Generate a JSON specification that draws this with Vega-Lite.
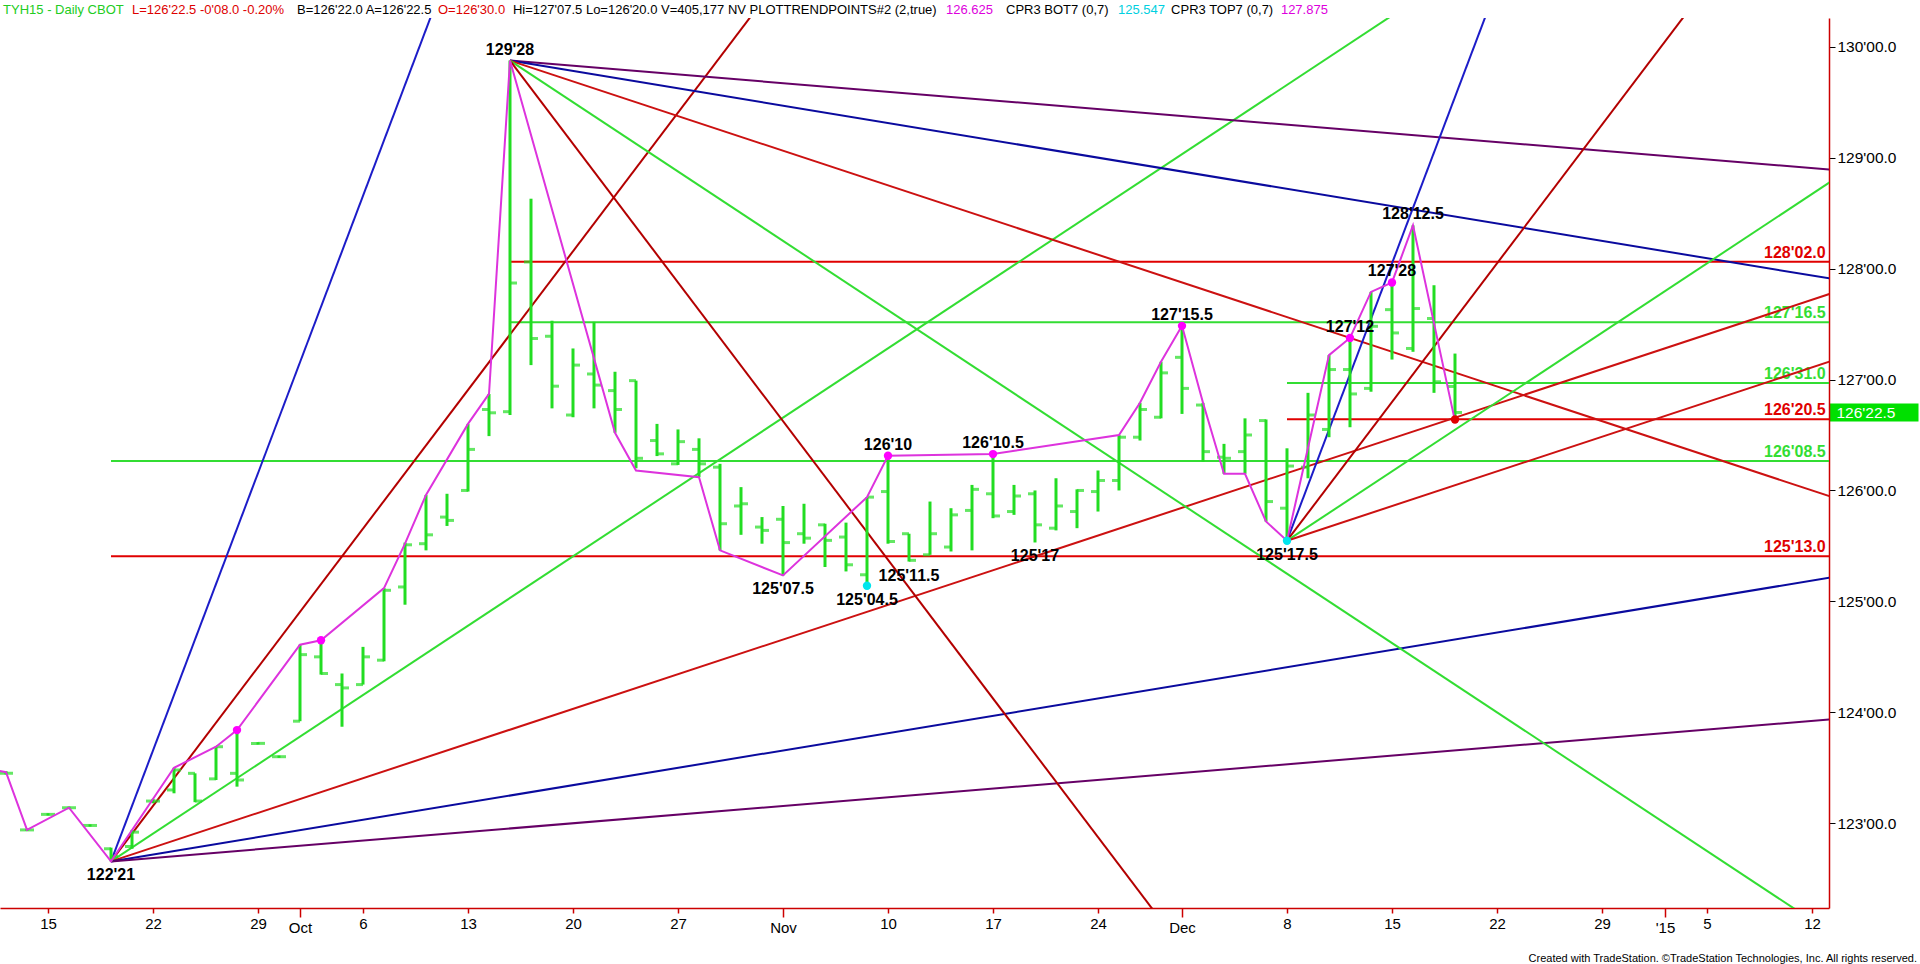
{
  "$schema": "https://vega.github.io/schema/vega-lite/v6.json",
  "width": 1829,
  "height": 890,
  "autosize": {"type": "none"},
  "padding": {"left": 0, "top": 18, "right": 91, "bottom": 56},
  "background": "white",
  "config": {"view": {"stroke": null}, "font": "Liberation Sans"},
  "title": {"text": "Created with TradeStation. ©TradeStation Technologies, Inc. All rights reserved.", "orient": "bottom", "anchor": "end", "frame": "group", "fontSize": 11, "fontWeight": "normal", "color": "black", "dx": 88, "offset": 18, "font": "Liberation Sans"},
  "datasets": {
    "bars": [
      {"i": -2, "o": 123.45, "hi": 123.47, "lo": 123.44, "c": 123.45},
      {"i": -1, "o": 122.94, "hi": 122.95, "lo": 122.93, "c": 122.94},
      {"i": 0, "o": 123.08, "hi": 123.09, "lo": 123.07, "c": 123.08},
      {"i": 1, "o": 123.14, "hi": 123.15, "lo": 123.13, "c": 123.14},
      {"i": 2, "o": 122.98, "hi": 122.99, "lo": 122.97, "c": 122.98},
      {"i": 3, "o": 122.77, "hi": 122.78, "lo": 122.656, "c": 122.70},
      {"i": 4, "o": 122.79, "hi": 122.94, "lo": 122.77, "c": 122.92},
      {"i": 5, "o": 123.20, "hi": 123.22, "lo": 123.18, "c": 123.20},
      {"i": 6, "o": 123.30, "hi": 123.50, "lo": 123.27, "c": 123.48},
      {"i": 7, "o": 123.45, "hi": 123.45, "lo": 123.19, "c": 123.20},
      {"i": 8, "o": 123.40, "hi": 123.69, "lo": 123.39, "c": 123.69},
      {"i": 9, "o": 123.45, "hi": 123.84, "lo": 123.33, "c": 123.39},
      {"i": 10, "o": 123.72, "hi": 123.73, "lo": 123.71, "c": 123.72},
      {"i": 11, "o": 123.60, "hi": 123.61, "lo": 123.59, "c": 123.60},
      {"i": 12, "o": 123.92, "hi": 124.61, "lo": 123.92, "c": 124.52},
      {"i": 13, "o": 124.50, "hi": 124.65, "lo": 124.34, "c": 124.35},
      {"i": 14, "o": 124.25, "hi": 124.35, "lo": 123.87, "c": 124.22},
      {"i": 15, "o": 124.25, "hi": 124.59, "lo": 124.25, "c": 124.50},
      {"i": 16, "o": 124.47, "hi": 125.12, "lo": 124.46, "c": 125.10},
      {"i": 17, "o": 125.13, "hi": 125.53, "lo": 124.97, "c": 125.51},
      {"i": 18, "o": 125.52, "hi": 125.96, "lo": 125.46, "c": 125.60},
      {"i": 19, "o": 125.76, "hi": 125.97, "lo": 125.68, "c": 125.73},
      {"i": 20, "o": 126.00, "hi": 126.60, "lo": 125.99, "c": 126.37},
      {"i": 21, "o": 126.73, "hi": 126.87, "lo": 126.49, "c": 126.70},
      {"i": 22, "o": 126.71, "hi": 129.875, "lo": 126.68, "c": 127.87},
      {"i": 23, "o": 128.06, "hi": 128.63, "lo": 127.13, "c": 127.37},
      {"i": 24, "o": 127.39, "hi": 127.53, "lo": 126.74, "c": 126.94},
      {"i": 25, "o": 126.68, "hi": 127.28, "lo": 126.66, "c": 127.13},
      {"i": 26, "o": 127.05, "hi": 127.52, "lo": 126.74, "c": 126.95},
      {"i": 27, "o": 126.90, "hi": 127.07, "lo": 126.52, "c": 126.73},
      {"i": 28, "o": 126.99, "hi": 126.99, "lo": 126.20, "c": 126.29},
      {"i": 29, "o": 126.45, "hi": 126.60, "lo": 126.31, "c": 126.33},
      {"i": 30, "o": 126.24, "hi": 126.55, "lo": 126.23, "c": 126.44},
      {"i": 31, "o": 126.37, "hi": 126.47, "lo": 126.12, "c": 126.24},
      {"i": 32, "o": 126.21, "hi": 126.24, "lo": 125.46, "c": 125.70},
      {"i": 33, "o": 125.86, "hi": 126.03, "lo": 125.60, "c": 125.88},
      {"i": 34, "o": 125.67, "hi": 125.76, "lo": 125.52, "c": 125.64},
      {"i": 35, "o": 125.74, "hi": 125.86, "lo": 125.234, "c": 125.53},
      {"i": 36, "o": 125.61, "hi": 125.88, "lo": 125.52, "c": 125.57},
      {"i": 37, "o": 125.69, "hi": 125.70, "lo": 125.31, "c": 125.55},
      {"i": 38, "o": 125.58, "hi": 125.71, "lo": 125.27, "c": 125.33},
      {"i": 39, "o": 125.24, "hi": 125.94, "lo": 125.141, "c": 125.94},
      {"i": 40, "o": 125.99, "hi": 126.3125, "lo": 125.52, "c": 125.54},
      {"i": 41, "o": 125.61, "hi": 125.61, "lo": 125.359, "c": 125.37},
      {"i": 42, "o": 125.42, "hi": 125.90, "lo": 125.42, "c": 125.61},
      {"i": 43, "o": 125.49, "hi": 125.84, "lo": 125.45, "c": 125.78},
      {"i": 44, "o": 125.82, "hi": 126.05, "lo": 125.46, "c": 126.01},
      {"i": 45, "o": 125.97, "hi": 126.328, "lo": 125.75, "c": 125.77},
      {"i": 46, "o": 125.81, "hi": 126.05, "lo": 125.78, "c": 125.95},
      {"i": 47, "o": 125.97, "hi": 126.00, "lo": 125.531, "c": 125.69},
      {"i": 48, "o": 125.66, "hi": 126.11, "lo": 125.64, "c": 125.86},
      {"i": 49, "o": 125.81, "hi": 126.01, "lo": 125.66, "c": 126.00},
      {"i": 50, "o": 125.99, "hi": 126.18, "lo": 125.81, "c": 126.09},
      {"i": 51, "o": 126.09, "hi": 126.50, "lo": 126.00, "c": 126.48},
      {"i": 52, "o": 126.48, "hi": 126.79, "lo": 126.45, "c": 126.73},
      {"i": 53, "o": 126.66, "hi": 127.16, "lo": 126.65, "c": 127.06},
      {"i": 54, "o": 127.20, "hi": 127.484, "lo": 126.69, "c": 126.92},
      {"i": 55, "o": 126.77, "hi": 126.79, "lo": 126.26, "c": 126.35},
      {"i": 56, "o": 126.30, "hi": 126.42, "lo": 126.15, "c": 126.29},
      {"i": 57, "o": 126.35, "hi": 126.65, "lo": 126.15, "c": 126.50},
      {"i": 58, "o": 126.63, "hi": 126.64, "lo": 125.72, "c": 125.90},
      {"i": 59, "o": 125.84, "hi": 126.38, "lo": 125.547, "c": 126.22},
      {"i": 60, "o": 126.21, "hi": 126.88, "lo": 126.11, "c": 126.68},
      {"i": 61, "o": 126.55, "hi": 127.22, "lo": 126.48, "c": 127.09},
      {"i": 62, "o": 127.09, "hi": 127.375, "lo": 126.57, "c": 126.87},
      {"i": 63, "o": 126.92, "hi": 127.79, "lo": 126.89, "c": 127.48},
      {"i": 64, "o": 127.63, "hi": 127.875, "lo": 127.18, "c": 127.42},
      {"i": 65, "o": 127.28, "hi": 128.39, "lo": 127.25, "c": 127.64},
      {"i": 66, "o": 127.55, "hi": 127.85, "lo": 126.88, "c": 126.98},
      {"i": 67, "o": 126.9375, "hi": 127.234, "lo": 126.625, "c": 126.703}
    ],
    "swing": [
      {"i": -3, "p": 123.5}, {"i": -2, "p": 123.46}, {"i": -1, "p": 122.94}, {"i": 1, "p": 123.14},
      {"i": 3, "p": 122.656}, {"i": 6, "p": 123.5}, {"i": 8, "p": 123.69}, {"i": 9, "p": 123.84},
      {"i": 12, "p": 124.61}, {"i": 13, "p": 124.65}, {"i": 16, "p": 125.12}, {"i": 17, "p": 125.52},
      {"i": 18, "p": 125.96}, {"i": 20, "p": 126.6}, {"i": 21, "p": 126.87}, {"i": 22, "p": 129.875},
      {"i": 27, "p": 126.52}, {"i": 28, "p": 126.18}, {"i": 31, "p": 126.12}, {"i": 32, "p": 125.46},
      {"i": 35, "p": 125.234}, {"i": 39, "p": 125.94}, {"i": 40, "p": 126.3125}, {"i": 45, "p": 126.328},
      {"i": 51, "p": 126.5}, {"i": 52, "p": 126.79}, {"i": 53, "p": 127.16}, {"i": 54, "p": 127.484},
      {"i": 55, "p": 126.79}, {"i": 56, "p": 126.15}, {"i": 57, "p": 126.15}, {"i": 58, "p": 125.72},
      {"i": 59, "p": 125.547}, {"i": 61, "p": 127.22}, {"i": 62, "p": 127.375}, {"i": 63, "p": 127.79},
      {"i": 64, "p": 127.875}, {"i": 65, "p": 128.39}, {"i": 67, "p": 126.625}
    ],
    "fans": [
      {"id": "L2", "rate": "1/2", "i": 3, "p": 122.656}, {"id": "L2", "rate": "1/2", "i": 21, "p": 131.656},
      {"id": "L4", "rate": "1/4", "i": 3, "p": 122.656}, {"id": "L4", "rate": "1/4", "i": 40, "p": 131.906},
      {"id": "L8", "rate": "1/8", "i": 3, "p": 122.656}, {"id": "L8", "rate": "1/8", "i": 90, "p": 133.531},
      {"id": "L16", "rate": "1/16", "i": 3, "p": 122.656}, {"id": "L16", "rate": "1/16", "i": 90, "p": 128.094},
      {"id": "L32", "rate": "1/32", "i": 3, "p": 122.656}, {"id": "L32", "rate": "1/32", "i": 90, "p": 125.375},
      {"id": "L64", "rate": "1/64", "i": 3, "p": 122.656}, {"id": "L64", "rate": "1/64", "i": 90, "p": 124.016},
      {"id": "H64", "rate": "1/64", "i": 22, "p": 129.875}, {"id": "H64", "rate": "1/64", "i": 90, "p": 128.8125},
      {"id": "H32", "rate": "1/32", "i": 22, "p": 129.875}, {"id": "H32", "rate": "1/32", "i": 90, "p": 127.75},
      {"id": "H16", "rate": "1/16", "i": 22, "p": 129.875}, {"id": "H16", "rate": "1/16", "i": 90, "p": 125.625},
      {"id": "H8", "rate": "1/8", "i": 22, "p": 129.875}, {"id": "H8", "rate": "1/8", "i": 90, "p": 121.375},
      {"id": "H4", "rate": "1/4", "i": 22, "p": 129.875}, {"id": "H4", "rate": "1/4", "i": 60, "p": 120.375},
      {"id": "D2", "rate": "1/2", "i": 59, "p": 125.547}, {"id": "D2", "rate": "1/2", "i": 70, "p": 131.047},
      {"id": "D4", "rate": "1/4", "i": 59, "p": 125.547}, {"id": "D4", "rate": "1/4", "i": 80, "p": 130.797},
      {"id": "D8", "rate": "1/8", "i": 59, "p": 125.547}, {"id": "D8", "rate": "1/8", "i": 90, "p": 129.422},
      {"id": "D16", "rate": "1/16", "i": 59, "p": 125.547}, {"id": "D16", "rate": "1/16", "i": 90, "p": 127.484}
    ],
    "levels": [
      {"p": 128.0625, "start": 22, "grp": "r", "label": "128'02.0"},
      {"p": 127.516, "start": 22, "grp": "g", "label": "127'16.5"},
      {"p": 126.969, "start": 59, "grp": "g", "label": "126'31.0"},
      {"p": 126.641, "start": 59, "grp": "r", "label": "126'20.5"},
      {"p": 126.266, "start": 3, "grp": "g", "label": "126'08.5"},
      {"p": 125.406, "start": 3, "grp": "r", "label": "125'13.0"}
    ],
    "pivots": [
      {"i": 9, "p": 123.84, "kind": "high"},
      {"i": 13, "p": 124.65, "kind": "high"},
      {"i": 40, "p": 126.3125, "kind": "high"},
      {"i": 45, "p": 126.328, "kind": "high"},
      {"i": 54, "p": 127.484, "kind": "high"},
      {"i": 62, "p": 127.375, "kind": "high"},
      {"i": 64, "p": 127.875, "kind": "high"},
      {"i": 39, "p": 125.141, "kind": "low"},
      {"i": 59, "p": 125.547, "kind": "low"},
      {"i": 67, "p": 126.64, "kind": "mark"}
    ],
    "notes": [
      {"i": 22, "p": 129.875, "label": "129'28", "pos": "above"},
      {"i": 40, "p": 126.3125, "label": "126'10", "pos": "above"},
      {"i": 45, "p": 126.328, "label": "126'10.5", "pos": "above"},
      {"i": 54, "p": 127.484, "label": "127'15.5", "pos": "above"},
      {"i": 62, "p": 127.375, "label": "127'12", "pos": "above"},
      {"i": 64, "p": 127.875, "label": "127'28", "pos": "above"},
      {"i": 65, "p": 128.39, "label": "128'12.5", "pos": "above"},
      {"i": 3, "p": 122.656, "label": "122'21", "pos": "below"},
      {"i": 35, "p": 125.234, "label": "125'07.5", "pos": "below"},
      {"i": 39, "p": 125.141, "label": "125'04.5", "pos": "below"},
      {"i": 41, "p": 125.359, "label": "125'11.5", "pos": "below"},
      {"i": 47, "p": 125.531, "label": "125'17", "pos": "below"},
      {"i": 59, "p": 125.547, "label": "125'17.5", "pos": "below"}
    ],
    "header": [
      {"text": "TYH15 - Daily  CBOT", "part": "sym", "at": -2.14},
      {"text": "L=126'22.5  -0'08.0  -0.20%", "part": "down", "at": 4.0},
      {"text": "B=126'22.0  A=126'22.5", "part": "info", "at": 11.86},
      {"text": "O=126'30.0", "part": "down", "at": 18.57},
      {"text": "Hi=127'07.5  Lo=126'20.0  V=405,177  NV  PLOTTRENDPOINTS#2 (2,true)", "part": "info", "at": 22.14},
      {"text": "126.625", "part": "hi", "at": 42.76},
      {"text": "CPR3 BOT7 (0,7)", "part": "info", "at": 45.62},
      {"text": "125.547", "part": "lo", "at": 50.95},
      {"text": "CPR3 TOP7 (0,7)", "part": "info", "at": 53.48},
      {"text": "127.875", "part": "hi", "at": 58.71}
    ]
  },
  "resolve": {"scale": {"color": "independent", "size": "independent"}},
  "layer": [
    {
      "data": {"name": "levels"},
      "mark": {"type": "rule", "strokeWidth": 2, "clip": true},
      "encoding": {
        "x": {"field": "start", "type": "quantitative",
          "scale": {"domain": [-2.286, 84.81], "nice": false, "zero": false},
          "axis": {"title": null, "grid": false, "orient": "bottom",
            "values": [0, 5, 10, 12, 15, 20, 25, 30, 35, 40, 45, 50, 54, 59, 64, 69, 74, 77, 79, 84],
            "labelExpr": "['15','22','29','Oct','6','13','20','27','Nov','10','17','24','Dec','8','15','22','29',\"'15\",'5','12'][indexof([0,5,10,12,15,20,25,30,35,40,45,50,54,59,64,69,74,77,79,84], datum.value)]",
            "labelOverlap": false, "labelFlush": false, "labelFontSize": 15, "labelColor": "black", "labelFont": "Liberation Sans",
            "labelPadding": 3, "domainColor": "#cc0000", "domainWidth": 1.5,
            "tickColor": "#cc0000", "tickWidth": 1.5,
            "tickSize": {"condition": {"test": "indexof([12,35,54,77], datum.value) >= 0", "value": 9}, "value": 5}}},
        "x2": {"datum": 90},
        "y": {"field": "p", "type": "quantitative",
          "scale": {"domain": [122.236, 130.259], "nice": false, "zero": false},
          "axis": {"title": null, "grid": false, "orient": "right",
            "values": [123, 124, 125, 126, 126.703, 127, 128, 129, 130],
            "labelExpr": "datum.value > 126.6 && datum.value < 126.8 ? \"126'22.5\" : format(datum.value, 'd') + \"'00.0\"",
            "labelOverlap": false, "labelFlush": false, "labelFontSize": 15.5, "labelFont": "Liberation Sans",
            "labelColor": {"condition": {"test": "datum.value > 126.6 && datum.value < 126.8", "value": "white"}, "value": "black"},
            "labelPadding": {"condition": {"test": "datum.value > 126.6 && datum.value < 126.8", "value": -82}, "value": 2},
            "domainColor": "#cc0000", "domainWidth": 1.5,
            "tickColor": {"condition": {"test": "datum.value > 126.6 && datum.value < 126.8", "value": "#00e000"}, "value": "black"},
            "tickWidth": {"condition": {"test": "datum.value > 126.6 && datum.value < 126.8", "value": 18}, "value": 1},
            "tickSize": {"condition": {"test": "datum.value > 126.6 && datum.value < 126.8", "value": 89}, "value": 6}}},
        "color": {"field": "grp", "type": "nominal", "scale": {"domain": ["r", "g"], "range": ["#e00000", "#33dd33"]}, "legend": null}
      }
    },
    {
      "data": {"name": "levels"},
      "mark": {"type": "text", "align": "right", "baseline": "alphabetic", "dy": -4, "fontSize": 16, "fontWeight": "bold", "font": "Liberation Sans"},
      "encoding": {
        "x": {"datum": 84.65, "type": "quantitative"},
        "y": {"field": "p", "type": "quantitative"},
        "text": {"field": "label"},
        "color": {"field": "grp", "type": "nominal", "scale": {"domain": ["r", "g"], "range": ["#e00000", "#33dd33"]}, "legend": null}
      }
    },
    {
      "data": {"name": "fans"},
      "mark": {"type": "line", "strokeWidth": 2, "clip": true},
      "encoding": {
        "x": {"field": "i", "type": "quantitative"},
        "y": {"field": "p", "type": "quantitative"},
        "detail": {"field": "id"},
        "color": {"field": "rate", "type": "nominal", "scale": {"domain": ["1/64", "1/32", "1/16", "1/8", "1/4", "1/2"], "range": ["#660066", "#0a0a9e", "#cc1111", "#33dd33", "#b30000", "#1c1cc8"]}, "legend": null}
      }
    },
    {
      "data": {"name": "bars"},
      "mark": {"type": "rule", "strokeWidth": 3, "color": "#22dd22"},
      "encoding": {
        "x": {"field": "i", "type": "quantitative"},
        "y": {"field": "lo", "type": "quantitative"},
        "y2": {"field": "hi"}
      }
    },
    {
      "data": {"name": "bars"},
      "mark": {"type": "tick", "orient": "horizontal", "size": 7, "thickness": 3, "xOffset": -3.5, "color": "#22dd22"},
      "encoding": {
        "x": {"field": "i", "type": "quantitative"},
        "y": {"field": "o", "type": "quantitative"}
      }
    },
    {
      "data": {"name": "bars"},
      "mark": {"type": "tick", "orient": "horizontal", "size": 7, "thickness": 3, "xOffset": 3.5, "color": "#22dd22"},
      "encoding": {
        "x": {"field": "i", "type": "quantitative"},
        "y": {"field": "c", "type": "quantitative"}
      }
    },
    {
      "data": {"name": "swing"},
      "mark": {"type": "line", "strokeWidth": 2, "color": "#dd33dd", "clip": true},
      "encoding": {
        "x": {"field": "i", "type": "quantitative"},
        "y": {"field": "p", "type": "quantitative"}
      }
    },
    {
      "data": {"name": "pivots"},
      "mark": {"type": "point", "filled": true, "opacity": 1},
      "encoding": {
        "x": {"field": "i", "type": "quantitative"},
        "y": {"field": "p", "type": "quantitative"},
        "color": {"field": "kind", "type": "nominal", "scale": {"domain": ["high", "low", "mark"], "range": ["#ff00ff", "#00e5ee", "#e00000"]}, "legend": null},
        "size": {"field": "kind", "type": "nominal", "scale": {"domain": ["high", "low", "mark"], "range": [70, 70, 14]}, "legend": null}
      }
    },
    {
      "data": {"name": "notes"},
      "transform": [{"filter": "datum.pos == 'above'"}],
      "mark": {"type": "text", "align": "center", "baseline": "alphabetic", "dy": -6, "fontSize": 16, "fontWeight": "bold", "color": "black", "font": "Liberation Sans"},
      "encoding": {
        "x": {"field": "i", "type": "quantitative"},
        "y": {"field": "p", "type": "quantitative"},
        "text": {"field": "label"}
      }
    },
    {
      "data": {"name": "notes"},
      "transform": [{"filter": "datum.pos == 'below'"}],
      "mark": {"type": "text", "align": "center", "baseline": "top", "dy": 6, "fontSize": 16, "fontWeight": "bold", "color": "black", "font": "Liberation Sans"},
      "encoding": {
        "x": {"field": "i", "type": "quantitative"},
        "y": {"field": "p", "type": "quantitative"},
        "text": {"field": "label"}
      }
    },
    {
      "data": {"name": "header"},
      "mark": {"type": "text", "align": "left", "baseline": "middle", "fontSize": 13, "font": "Liberation Sans"},
      "encoding": {
        "x": {"field": "at", "type": "quantitative"},
        "y": {"datum": 130.33, "type": "quantitative"},
        "text": {"field": "text"},
        "color": {"field": "part", "type": "nominal", "scale": {"domain": ["sym", "down", "info", "hi", "lo"], "range": ["#22cc22", "#dd0000", "#000000", "#dd00dd", "#00d0e0"]}, "legend": null}
      }
    }
  ]
}
